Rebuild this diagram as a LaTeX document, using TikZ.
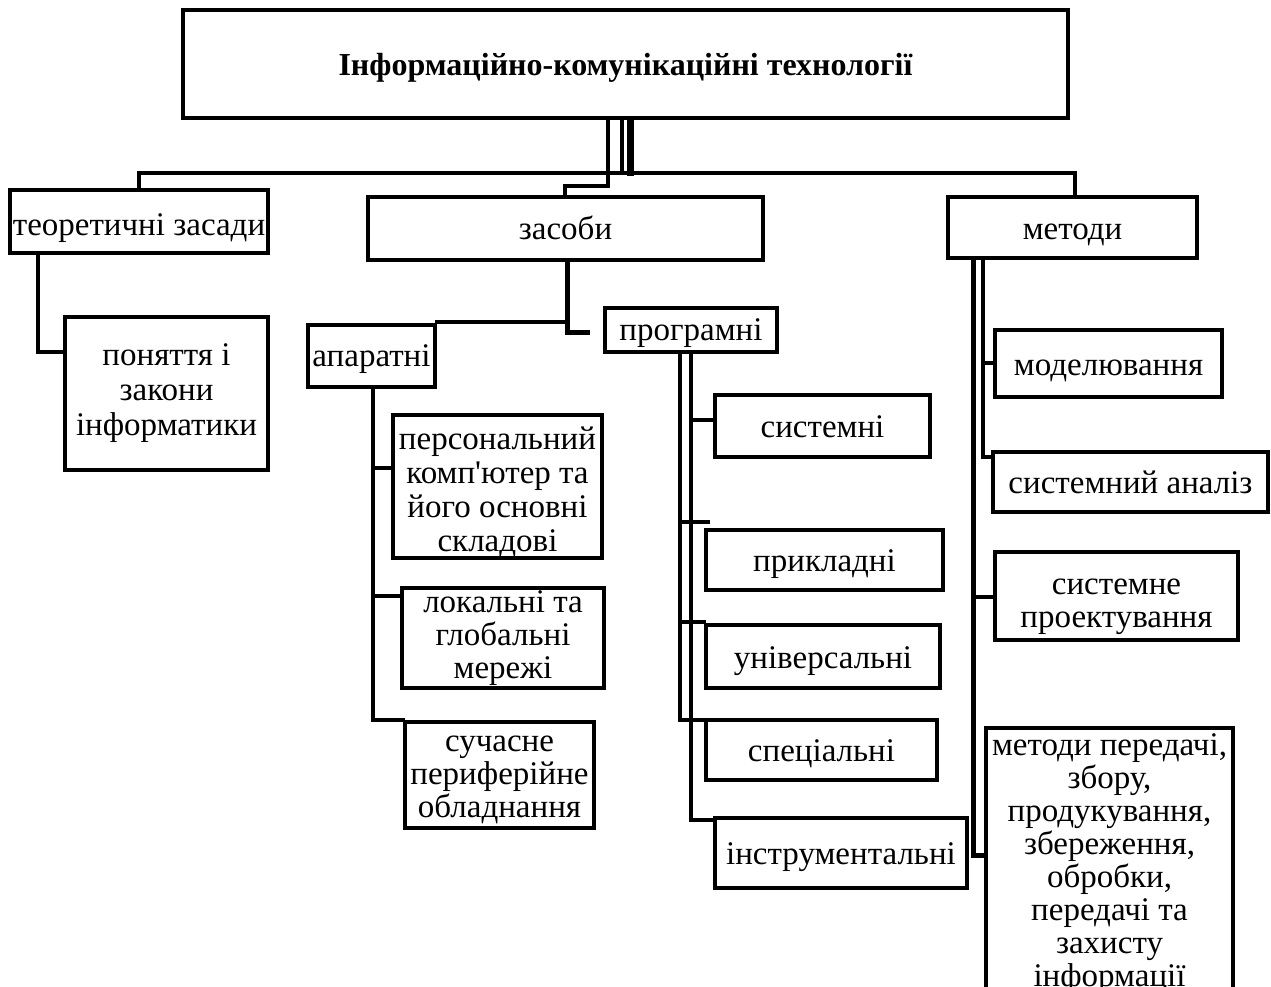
\documentclass[tikz,border=0pt]{standalone}
\usepackage{fontspec}
\setmainfont{Liberation Serif}[Ligatures=TeXOff]
\newcommand\boxfont{\fontsize{33}{33}\selectfont}
\newcommand\titlefont{\fontsize{32}{34}\selectfont\bfseries}
\begin{document}
\begin{tikzpicture}[x=1pt,y=-1pt,
  box/.style={draw, line width=4pt, align=center, inner sep=0pt, outer sep=0pt, font=\boxfont},
  oneline/.style={box, text height=30pt, text depth=7pt},
  conn/.style={line width=4pt, line join=miter},
  thickconn/.style={line width=7pt}]
\useasboundingbox (0,0) rectangle (1271,987);
\clip (0,0) rectangle (1271,987);
% boxes
\node[box, minimum width=885, minimum height=108, font=\titlefont, text height=31pt, text depth=7pt] (top) at (625.5,64) {Інформаційно-комунікаційні технології};
\node[box, minimum width=258, minimum height=63, text height=35pt, text depth=7pt] (theo) at (139,221.5) {теоретичні засади};
\node[oneline, minimum width=395, minimum height=63] (zasoby) at (565.5,228.5) {засоби};
\node[oneline, minimum width=249, minimum height=61] (metody) at (1072.5,227.5) {методи};
\node[box, minimum width=203, minimum height=153, font=\fontsize{33}{35}\selectfont] (ponyattya) at (166.5,393.5) {поняття і\\закони\\інформатики};
\node[oneline, minimum width=127, minimum height=62, text height=27pt] (aparatni) at (371.5,356) {апаратні};
\node[oneline, minimum width=172, minimum height=44, text height=26pt, text depth=6pt] (programni) at (691,330) {програмні};
\node[box, minimum width=209, minimum height=137, font=\fontsize{33}{34}\selectfont] (personal) at (497.5,486.5) {\rule{0pt}{34pt}персональний\\комп'ютер та\\його основні\\складові};
\node[box, minimum width=202, minimum height=100] (local) at (503,638) {локальні та\\глобальні\\мережі};
\node[box, minimum width=189, minimum height=106] (suchasne) at (499.5,775) {\rule{0pt}{25pt}сучасне\\периферійне\\обладнання};
\node[oneline, minimum width=215, minimum height=62] (systemni) at (822.5,426) {системні};
\node[oneline, minimum width=237, minimum height=60] (prykladni) at (824.5,560) {прикладні};
\node[oneline, minimum width=234, minimum height=63] (universal) at (823,656.5) {універсальні};
\node[oneline, minimum width=231, minimum height=60] (special) at (821.5,750) {спеціальні};
\node[oneline, minimum width=252, minimum height=70] (instrum) at (841,853) {інструментальні};
\node[oneline, minimum width=227, minimum height=67] (modeling) at (1108.5,363.5) {моделювання};
\node[oneline, minimum width=275, minimum height=60] (sysanal) at (1130.5,482) {системний аналіз};
\node[box, minimum width=243, minimum height=88] (sysdesign) at (1116.5,596) {\rule{0pt}{37pt}системне\\проектування};
\node[box, anchor=north, minimum width=247, inner ysep=6pt] (transfer) at (1109.5,728) {методи передачі,\\збору,\\продукування,\\збереження,\\обробки,\\передачі та\\захисту\\інформації};
% free ends
\coordinate (zstub) at (590,332);
\coordinate (pstub) at (710,522);
% top connectors
\draw[thickconn] (top.south -| 630,0) -- (630,176);
\draw[conn] (top.south -| 622,0) -- (622,173);
\draw[conn] (theo.north) -- (theo.north |- 0,173) -- (1075,173) -- (metody.north -| 1075,0);
\draw[conn] (top.south -| 608,0) -- (608,186) -- (565,186) -- (zasoby.north -| 565,0);
% theory
\draw[conn] (theo.south -| 38,0) -- (38,352) -- (ponyattya.west |- 0,352);
% zasoby
\draw[line width=5pt] (zasoby.south -| 567,0) -- (567,332) -- (zstub);
\draw[conn] (aparatni.north east |- 0,322) -- (567,322);
% aparatni
\draw[conn] (aparatni.south -| 373,0) -- (373,720) -- (403,720) -- (suchasne.north -| 403,0);
\draw[conn] (373,468) -- (personal.west |- 0,468);
\draw[conn] (373,596) -- (local.west |- 0,596);
% programni
\draw[conn] (programni.south -| 691,0) -- (691,820) -- (instrum.west |- 0,820);
\draw[conn] (691,420) -- (systemni.west |- 0,420);
\draw[conn] (programni.south -| 680,0) -- (680,720) -- (special.west |- 0,720);
\draw[conn] (680,522) -- (pstub);
\draw[conn] (680,622) -- (universal.west |- 0,622);
% metody
\draw[line width=5pt] (metody.south -| 973,0) -- (973,855) -- (transfer.west |- 0,855);
\draw[conn] (973,597) -- (sysdesign.west |- 0,597);
\draw[conn] (metody.south -| 983,0) -- (983,457) -- (sysanal.west |- 0,457);
\draw[conn] (983,363) -- (modeling.west |- 0,363);
\end{tikzpicture}
\end{document}
